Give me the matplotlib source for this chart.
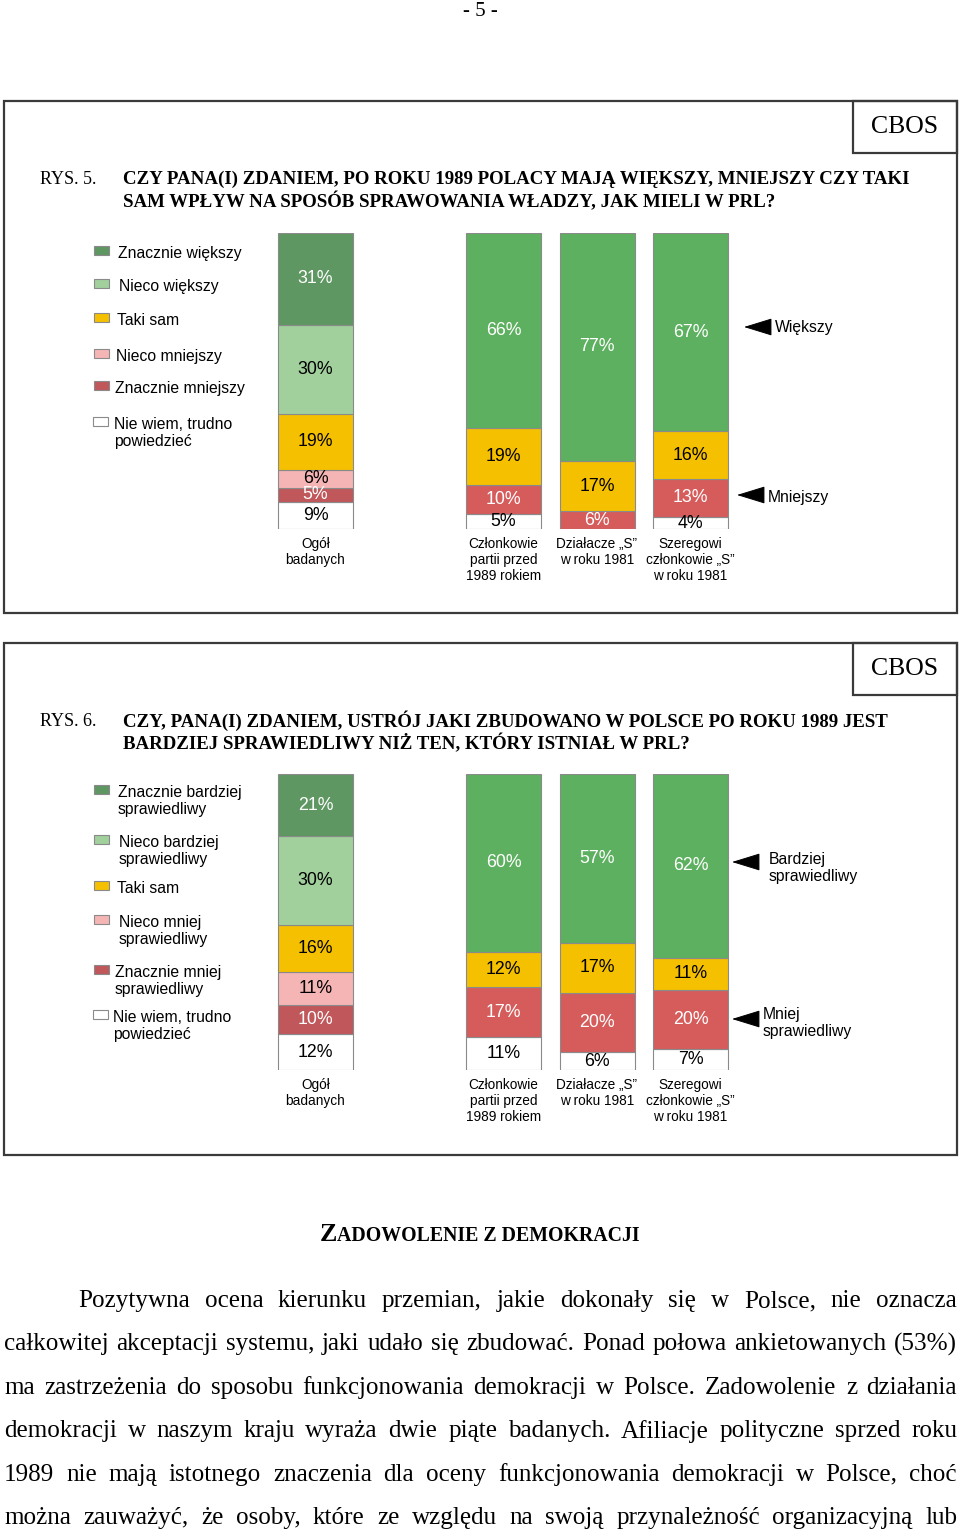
import matplotlib
matplotlib.use("Agg")
import matplotlib.pyplot as plt
from matplotlib.patches import Rectangle

# ---- dane ----
group_labels = ["Ogół\nbadanych", "Członkowie\npartii przed\n1989 rokiem",
                "Działacze „S”\nw roku 1981", "Szeregowi\nczłonkowie „S”\nw roku 1981"]

rys5_title = ["CZY PANA(I) ZDANIEM, PO ROKU 1989 POLACY MAJĄ WIĘKSZY, MNIEJSZY CZY TAKI",
              "SAM WPŁYW NA SPOSÓB SPRAWOWANIA WŁADZY, JAK MIELI W PRL?"]
rys5_legend = ["Znacznie większy", "Nieco większy", "Taki sam", "Nieco mniejszy",
               "Znacznie mniejszy", "Nie wiem, trudno\npowiedzieć"]
rys5_arrows = ["Większy", "Mniejszy"]
rys5_ogol = [31, 30, 19, 6, 5, 9]          # od góry do dołu
rys5_wiekszy = [66, 77, 67]
rys5_taki_sam = [19, 17, 16]
rys5_mniejszy = [10, 6, 13]
rys5_nie_wiem = [5, 0, 4]

rys6_title = ["CZY, PANA(I) ZDANIEM, USTRÓJ JAKI ZBUDOWANO W POLSCE PO ROKU 1989 JEST",
              "BARDZIEJ SPRAWIEDLIWY NIŻ TEN, KTÓRY ISTNIAŁ W PRL?"]
rys6_legend = ["Znacznie bardziej\nsprawiedliwy", "Nieco bardziej\nsprawiedliwy", "Taki sam",
               "Nieco mniej\nsprawiedliwy", "Znacznie mniej\nsprawiedliwy", "Nie wiem, trudno\npowiedzieć"]
rys6_arrows = ["Bardziej\nsprawiedliwy", "Mniej\nsprawiedliwy"]
rys6_ogol = [21, 30, 16, 11, 10, 12]
rys6_bardziej = [60, 57, 62]
rys6_taki_sam = [12, 17, 11]
rys6_mniej = [17, 20, 20]
rys6_nie_wiem = [11, 6, 7]

heading = ("Z", "ADOWOLENIE Z DEMOKRACJI")
body_lines = [
    "Pozytywna ocena kierunku przemian, jakie dokonały się w Polsce, nie oznacza",
    "całkowitej akceptacji systemu, jaki udało się zbudować. Ponad połowa ankietowanych (53%)",
    "ma zastrzeżenia do sposobu funkcjonowania demokracji w Polsce. Zadowolenie z działania",
    "demokracji w naszym kraju wyraża dwie piąte badanych. Afiliacje polityczne sprzed roku",
    "1989 nie mają istotnego znaczenia dla oceny funkcjonowania demokracji w Polsce, choć",
    "można zauważyć, że osoby, które ze względu na swoją przynależność organizacyjną lub",
]

# ---- style ----
W, H = 960, 1533
SANS = "Liberation Sans"
SERIF = "Liberation Serif"
c_seg = ["#5f9762", "#a1d09d", "#f5c000", "#f6b5b5", "#c0575a", "white"]
t_seg = ["white", "black", "black", "black", "white", "black"]
c_plus, c_minus = "#5db05f", "#d65c5c"
bar_x = [315.5, 503.5, 597, 690.5]
bar_w = 75

fig = plt.figure(figsize=(W / 100, H / 100), dpi=100)
page = fig.add_axes([0, 0, 1, 1])
page.set_xlim(0, W)
page.set_ylim(H, 0)
page.axis("off")
renderer = fig.canvas.get_renderer()


def width_of(t):
    return t.get_window_extent(renderer).width


def fit_size(s, target, weight="normal", family=SERIF, base=14):
    t = page.text(0, 0, s, fontsize=base, family=family, weight=weight)
    w = width_of(t)
    t.remove()
    return base * target / w


def draw_panel(top, title, title_w, rys, legend, leg_rows, arrows, arr_rows,
               ogol, plus, same, minus, nie_wiem, bar_top, bar_bot):
    # ramka i CBOS
    page.add_patch(Rectangle((4, top), 953, 512, fill=False, lw=1.6, ec="#3a3a3a"))
    page.add_patch(Rectangle((853, top), 104, 52, fill=False, lw=1.6, ec="#3a3a3a"))
    page.text(905, top + 26, "CBOS", family=SERIF, fontsize=18.5, ha="center", va="center")

    # tytuł
    ty = top + 78
    page.text(40, ty, rys, family=SERIF, fontsize=13, va="center")
    size = fit_size(title[0], title_w, weight="bold")
    for i, line in enumerate(title):
        page.text(123, ty + 23 * i, line, family=SERIF, weight="bold", fontsize=size, va="center")

    # legenda (yy = środek pierwszej linii tekstu)
    for (yy, tx), lab, col in zip(leg_rows, legend, c_seg):
        page.add_patch(Rectangle((94 - (1 if col == "white" else 0), yy - 7), 15, 9,
                                 fc=col, ec="#8a8a8a", lw=0.8))
        page.text(tx, yy - 7, lab, family=SANS, fontsize=11.3, va="top", linespacing=1.15)

    # słupki
    ax = fig.add_axes([0, 1 - bar_bot / H, 1, (bar_bot - bar_top) / H])
    ax.set_xlim(0, W)
    ax.set_ylim(0, 100)
    ax.axis("off")
    ax.patch.set_alpha(0)

    stacks = [list(zip(ogol[::-1], c_seg[::-1], t_seg[::-1]))]
    for p, s, m, n in zip(plus, same, minus, nie_wiem):
        stacks.append([(n, "white", "black"), (m, c_minus, "white"),
                       (s, c_seg[2], "black"), (p, c_plus, "white")])
    for x, stack in zip(bar_x, stacks):
        b = 0
        for h, col, tc in stack:
            if h == 0:
                continue
            ax.bar(x, h, bottom=b, width=bar_w, color=col, edgecolor="#8a8a8a", lw=0.8)
            ax.text(x, b + h / 2, f"{h}%", ha="center", va="center", color=tc,
                    family=SANS, fontsize=12.8)
            b += h

    for x, lab in zip(bar_x, group_labels):
        page.text(x, bar_bot + 8, lab, family=SANS, fontsize=9.8, ha="center", va="top",
                  linespacing=1.18)

    # strzałki (yy = poziom strzałki, ty_ = środek pierwszej linii opisu)
    for (yy, x_head, tx, ty_), lab in zip(arr_rows, arrows):
        page.annotate("", xy=(x_head, yy), xytext=(x_head + 26, yy),
                      arrowprops=dict(arrowstyle="-|>,head_length=1.3,head_width=0.4",
                                      mutation_scale=14, color="black", lw=0.7,
                                      shrinkA=0, shrinkB=0))
        page.text(tx, ty_ - 7, lab, family=SANS, fontsize=11.3, va="top", linespacing=1.15)


# nr strony
page.text(480, 11, "- 5 -", family=SERIF, fontsize=15, ha="center", va="center")

draw_panel(101, rys5_title, 789, "RYS. 5.", rys5_legend,
           [(253, 118), (286, 119), (320, 117), (356, 116), (388, 115), (424, 114)],
           rys5_arrows, [(327, 744, 775, 327), (495, 737, 768, 497)],
           rys5_ogol, rys5_wiekszy, rys5_taki_sam, rys5_mniejszy, rys5_nie_wiem, 233, 529)

draw_panel(643, rys6_title, 767, "RYS. 6.", rys6_legend,
           [(792, 118), (842, 119), (888, 117), (922, 119), (972, 115), (1017, 113)],
           rys6_arrows, [(862, 732, 769, 859), (1019, 732, 763, 1014)],
           rys6_ogol, rys6_bardziej, rys6_taki_sam, rys6_mniej, rys6_nie_wiem, 774, 1070)

# nagłówek kapitalikami
hs = 15.0
z = page.text(320, 1241, heading[0], family=SERIF, weight="bold", fontsize=hs * 1.25,
              va="baseline")
rest = page.text(0, 1241, heading[1], family=SERIF, weight="bold", fontsize=hs, va="baseline")
scale = (320 - width_of(z)) / width_of(rest)
rest.set_fontsize(hs * scale)
rest.set_x(320 + width_of(z))

# tekst wyjustowany
bs = fit_size(body_lines[1], 945)
for i, line in enumerate(body_lines):
    x0 = 78 if i == 0 else 4
    y = 1301 + 43.4 * i
    words = line.split()
    arts = [page.text(0, y, w, family=SERIF, fontsize=bs, va="center") for w in words]
    widths = [width_of(a) for a in arts]
    gap = (957 - x0 - sum(widths)) / (len(words) - 1)
    x = x0
    for a, w in zip(arts, widths):
        a.set_x(x)
        x += w + gap

fig.savefig("out.png", dpi=100)
